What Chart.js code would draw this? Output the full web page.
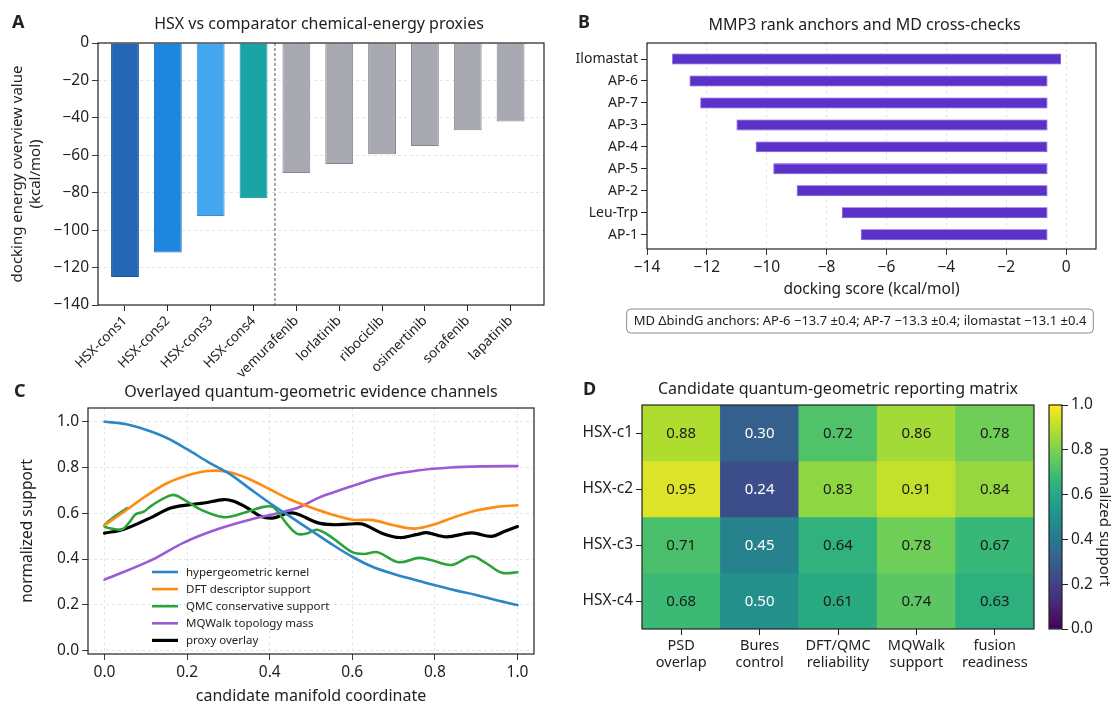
<!DOCTYPE html>
<html>
<head>
<meta charset="utf-8">
<title>HSX docking and quantum-geometric overview</title>
<script src="https://cdn.jsdelivr.net/npm/chart.js@4.4.1/dist/chart.umd.min.js"></script>
<style>
  html, body { margin: 0; padding: 0; background: #ffffff; }
  #board { position: relative; width: 1117px; height: 706px; overflow: hidden; background: #ffffff; }
  #board canvas { position: absolute; left: 0; top: 0; }
</style>
</head>
<body>
<div id="board">
  <canvas id="panelA" width="1117" height="706"></canvas>
  <canvas id="panelB" width="1117" height="706"></canvas>
  <canvas id="panelC" width="1117" height="706"></canvas>
  <canvas id="panelD" width="1117" height="706"></canvas>
  <canvas id="panelDbar" width="1117" height="706"></canvas>
</div>
<script>
// ---------- Panel A: docking energy overview ----------
const compounds = ['HSX-cons1', 'HSX-cons2', 'HSX-cons3', 'HSX-cons4', 'vemurafenib',
                   'lorlatinib', 'ribociclib', 'osimertinib', 'sorafenib', 'lapatinib'];
const dockingEnergy = [-125, -112, -92.5, -83, -69.5, -64.7, -59.5, -55, -46.6, -42];
const energyTicks = [0, -20, -40, -60, -80, -100, -120, -140];
const barFillA = ['#2367b5', '#1e87dd', '#43a6ef', '#19a5a6', '#a9aab1',
                  '#a9aab1', '#a9aab1', '#a9aab1', '#a9aab1', '#a9aab1'];
const barEdgeA = ['#1b568f', '#1a70b8', '#3890cf', '#138a8b', '#85868d',
                  '#85868d', '#85868d', '#85868d', '#85868d', '#85868d'];
const groupDivider = 3.5;

// ---------- Panel B: MMP3 rank anchors ----------
const anchors = ['Ilomastat', 'AP-6', 'AP-7', 'AP-3', 'AP-4', 'AP-5', 'AP-2', 'Leu-Trp', 'AP-1'];
const scoreStart = [-13.16, -12.58, -12.22, -11.01, -10.37, -9.78, -9.0, -7.49, -6.86];
const scoreEnd = [-0.17, -0.62, -0.62, -0.62, -0.62, -0.62, -0.62, -0.62, -0.62];
const scoreTicks = [-14, -12, -10, -8, -6, -4, -2, 0];
const mdNote = 'MD \u0394bindG anchors: AP-6 \u221213.7 \u00b10.4; AP-7 \u221213.3 \u00b10.4; ilomastat \u221213.1 \u00b10.4';

// ---------- Panel C: evidence channels along the manifold coordinate ----------
const kernelX = [0, 0.05, 0.1, 0.15, 0.2, 0.25, 0.3, 0.35, 0.4, 0.45, 0.5, 0.55, 0.6, 0.65, 0.7, 0.75, 0.8, 0.85, 0.9, 0.95, 1.0];
const kernelY = [1.0, 0.99, 0.965, 0.93, 0.88, 0.825, 0.775, 0.71, 0.645, 0.585, 0.525, 0.465, 0.41, 0.365, 0.335, 0.31, 0.285, 0.263, 0.243, 0.22, 0.199];
const dftX = [0, 0.05, 0.1, 0.15, 0.2, 0.25, 0.3, 0.35, 0.4, 0.45, 0.5, 0.55, 0.6, 0.65, 0.7, 0.75, 0.8, 0.85, 0.9, 0.95, 1.0];
const dftY = [0.548, 0.61, 0.675, 0.73, 0.765, 0.785, 0.78, 0.75, 0.705, 0.66, 0.625, 0.595, 0.572, 0.57, 0.548, 0.533, 0.552, 0.585, 0.612, 0.628, 0.635];
const qmcX = [0.055, 0.028, 0.0, 0.02, 0.043, 0.06, 0.075, 0.095, 0.115, 0.164, 0.192, 0.233, 0.289, 0.338, 0.385, 0.41, 0.443, 0.467, 0.49, 0.515, 0.55, 0.6, 0.628, 0.661, 0.712, 0.76, 0.79, 0.84, 0.889, 0.919, 0.962, 1.0];
const qmcY = [0.623, 0.59, 0.545, 0.532, 0.53, 0.56, 0.595, 0.607, 0.635, 0.68, 0.66, 0.616, 0.583, 0.602, 0.628, 0.625, 0.55, 0.51, 0.512, 0.528, 0.495, 0.43, 0.422, 0.43, 0.386, 0.405, 0.396, 0.374, 0.412, 0.388, 0.34, 0.342];
const walkX = [0, 0.111, 0.192, 0.273, 0.354, 0.435, 0.471, 0.515, 0.552, 0.596, 0.677, 0.758, 0.838, 0.919, 1.0];
const walkY = [0.31, 0.393, 0.472, 0.53, 0.573, 0.607, 0.626, 0.665, 0.69, 0.717, 0.762, 0.787, 0.8, 0.805, 0.806];
const proxyX = [0, 0.047, 0.111, 0.16, 0.208, 0.241, 0.289, 0.313, 0.346, 0.378, 0.41, 0.443, 0.467, 0.515, 0.552, 0.596, 0.624, 0.673, 0.715, 0.758, 0.78, 0.828, 0.889, 0.937, 0.968, 1.0];
const proxyY = [0.513, 0.53, 0.58, 0.623, 0.638, 0.645, 0.66, 0.652, 0.623, 0.587, 0.58, 0.6, 0.597, 0.559, 0.55, 0.553, 0.553, 0.512, 0.494, 0.508, 0.515, 0.497, 0.514, 0.499, 0.52, 0.542];
const coordTicks = [0, 0.2, 0.4, 0.6, 0.8, 1.0];
const supportTicks = [0, 0.2, 0.4, 0.6, 0.8, 1.0];

// ---------- Panel D: reporting matrix ----------
const candidates = ['HSX-c1', 'HSX-c2', 'HSX-c3', 'HSX-c4'];
const metrics = [['PSD', 'overlap'], ['Bures', 'control'], ['DFT/QMC', 'reliability'], ['MQWalk', 'support'], ['fusion', 'readiness']];
const scoresC1 = [0.88, 0.30, 0.72, 0.86, 0.78];
const scoresC2 = [0.95, 0.24, 0.83, 0.91, 0.84];
const scoresC3 = [0.71, 0.45, 0.64, 0.78, 0.67];
const scoresC4 = [0.68, 0.50, 0.61, 0.74, 0.63];
const colorbarTicks = [0, 0.2, 0.4, 0.6, 0.8, 1.0];

// ---------- shared helpers ----------
const FONT = "'Noto Sans', 'DejaVu Sans', sans-serif";
const INK = '#222222';
Chart.defaults.font.family = FONT;
Chart.defaults.font.size = 15;
Chart.defaults.color = INK;
Chart.defaults.animation = false;
Chart.defaults.responsive = false;
Chart.defaults.devicePixelRatio = 1;
Chart.defaults.plugins.legend.display = false;
Chart.defaults.plugins.tooltip.enabled = false;

const minusFmt = v => (v < 0 ? '\u2212' + Math.abs(v) : String(v));
const fixedTicks = list => scale => { scale.ticks = list.map(v => ({ value: v })); };

const viridisStops = ['#440154', '#482878', '#3e4989', '#31688e', '#26828e',
                      '#1f9e89', '#35b779', '#6ece58', '#b5de2b', '#fde725'];
function hexRgb(h) { return [1, 3, 5].map(k => parseInt(h.slice(k, k + 2), 16)); }
function viridis(t) {
  const s = Math.min(1, Math.max(0, t)) * (viridisStops.length - 1);
  const i = Math.min(viridisStops.length - 2, Math.floor(s));
  const f = s - i;
  const a = hexRgb(viridisStops[i]), b = hexRgb(viridisStops[i + 1]);
  const c = a.map((v, k) => Math.round(v + (b[k] - v) * f));
  return `rgb(${c[0]}, ${c[1]}, ${c[2]})`;
}

// Frame, panel letter and panel title around each axes box
const panelDeco = {
  id: 'panelDeco',
  afterDraw(chart, args, o) {
    const { ctx, chartArea: a } = chart;
    ctx.save();
    if (o.frame !== false) {
      ctx.strokeStyle = INK;
      ctx.lineWidth = 1.2;
      ctx.strokeRect(a.left, a.top, a.right - a.left, a.bottom - a.top);
    }
    ctx.fillStyle = INK;
    ctx.textBaseline = 'middle';
    if (o.title) {
      ctx.font = `16px ${FONT}`;
      ctx.textAlign = 'center';
      ctx.fillText(o.title, (a.left + a.right) / 2 + (o.titleDx || 0), o.titleY);
    }
    if (o.letter) {
      ctx.font = `bold 18px ${FONT}`;
      ctx.textAlign = 'left';
      ctx.fillText(o.letter, o.letterX, o.letterY);
    }
    ctx.restore();
  }
};

// ---------- Panel A chart ----------
const dividerLine = {
  id: 'dividerLine',
  afterDatasetsDraw(chart) {
    const { ctx, chartArea: a, scales } = chart;
    const x = scales.x.getPixelForValue(groupDivider);
    ctx.save();
    ctx.strokeStyle = '#555555';
    ctx.lineWidth = 1;
    ctx.setLineDash([3, 2]);
    ctx.beginPath();
    ctx.moveTo(x, a.top);
    ctx.lineTo(x, a.bottom);
    ctx.stroke();
    ctx.restore();
  }
};

new Chart(document.getElementById('panelA'), {
  type: 'bar',
  data: {
    datasets: [{
      data: dockingEnergy.map((v, i) => ({ x: i, y: v })),
      backgroundColor: barFillA,
      borderColor: barEdgeA,
      borderWidth: 1,
      barPercentage: 0.65,
      categoryPercentage: 1
    }]
  },
  options: {
    layout: { padding: { left: 9, top: 43, right: 573, bottom: 291 } },
    scales: {
      x: {
        type: 'linear', min: -0.63, max: 9.78, offset: false,
        afterBuildTicks: fixedTicks(compounds.map((c, i) => i)),
        ticks: { callback: v => compounds[v], minRotation: 45, maxRotation: 45, autoSkip: false, font: { size: 13.5 }, padding: 2 },
        grid: { offset: false, drawOnChartArea: false, tickColor: INK, tickLength: 6 },
        border: { display: false },
        afterFit: s => { s.height = 110; }
      },
      y: {
        type: 'linear', min: -140, max: 0,
        afterBuildTicks: fixedTicks(energyTicks),
        ticks: { callback: minusFmt, padding: 3, font: { size: 15.5 } },
        grid: { color: '#e3e3e3', lineWidth: 0.9, tickColor: INK, tickLength: 6 },
        border: { display: false, dash: [3, 3] },
        title: { display: true, text: ['docking energy overview value', '(kcal/mol)'], padding: 0, font: { size: 15 } },
        afterFit: s => { s.width = 89; }
      }
    },
    plugins: {
      panelDeco: { letter: 'A', letterX: 12, letterY: 23, title: 'HSX vs comparator chemical-energy proxies', titleY: 24, titleDx: -2 }
    }
  },
  plugins: [dividerLine, panelDeco]
});

// ---------- Panel B chart ----------
const noteBox = {
  id: 'noteBox',
  afterDraw(chart) {
    const { ctx } = chart;
    ctx.save();
    ctx.font = `13px ${FONT}`;
    const w = ctx.measureText(mdNote).width;
    const cx = 860, cy = 321, padX = 7, h = 24;
    const x0 = cx - w / 2 - padX, y0 = cy - h / 2;
    ctx.beginPath();
    ctx.roundRect(x0, y0, w + 2 * padX, h, 4);
    ctx.fillStyle = '#ffffff';
    ctx.fill();
    ctx.strokeStyle = '#8c8c8c';
    ctx.lineWidth = 1;
    ctx.stroke();
    ctx.fillStyle = INK;
    ctx.textAlign = 'center';
    ctx.textBaseline = 'middle';
    ctx.fillText(mdNote, cx, cy + 0.5);
    ctx.restore();
  }
};

new Chart(document.getElementById('panelB'), {
  type: 'bar',
  data: {
    datasets: [{
      data: anchors.map((n, i) => ({ x: [scoreStart[i], scoreEnd[i]], y: i })),
      backgroundColor: '#5a31c9',
      borderColor: '#6a45d4',
      borderWidth: 0.8,
      borderSkipped: false,
      barPercentage: 0.5,
      categoryPercentage: 1
    }]
  },
  options: {
    indexAxis: 'y',
    layout: { padding: { left: 570, top: 43, right: 21, bottom: 407 } },
    scales: {
      x: {
        type: 'linear', min: -14, max: 1,
        afterBuildTicks: fixedTicks(scoreTicks),
        ticks: { callback: minusFmt, padding: 3, font: { size: 15.5 } },
        grid: { color: '#e3e3e3', lineWidth: 0.9, tickColor: INK, tickLength: 6 },
        border: { display: false, dash: [3, 3] },
        title: { display: true, text: 'docking score (kcal/mol)', padding: 0, font: { size: 15.5 } },
        afterFit: s => { s.height = 50; }
      },
      y: {
        type: 'linear', reverse: true, min: -0.73, max: 8.65, offset: false,
        afterBuildTicks: fixedTicks(anchors.map((n, i) => i)),
        ticks: { callback: v => anchors[v], padding: 3, font: { size: 14 } },
        grid: { offset: false, drawOnChartArea: false, tickColor: INK, tickLength: 6 },
        border: { display: false },
        afterFit: s => { s.width = 77; }
      }
    },
    plugins: {
      panelDeco: { letter: 'B', letterX: 578, letterY: 23, title: 'MMP3 rank anchors and MD cross-checks', titleY: 25, titleDx: -7 }
    }
  },
  plugins: [noteBox, panelDeco]
});

// ---------- Panel C chart ----------
const pairs = (xs, ys) => xs.map((x, i) => ({ x, y: ys[i] }));

const insideLegend = {
  id: 'insideLegend',
  afterDraw(chart) {
    const { ctx } = chart;
    ctx.save();
    ctx.font = `11.5px ${FONT}`;
    ctx.textAlign = 'left';
    ctx.textBaseline = 'middle';
    chart.data.datasets.forEach((ds, i) => {
      const y = 572 + i * 17.1;
      ctx.strokeStyle = ds.borderColor;
      ctx.lineWidth = ds.borderWidth;
      ctx.beginPath();
      ctx.moveTo(152, y);
      ctx.lineTo(178, y);
      ctx.stroke();
      ctx.fillStyle = INK;
      ctx.fillText(ds.label, 186, y + 0.5);
    });
    ctx.restore();
  }
};

const lineStyle = (label, color, width, pts) => ({
  label, data: pts, borderColor: color, borderWidth: width,
  pointRadius: 0, tension: 0.35, fill: false, borderCapStyle: 'round', borderJoinStyle: 'round'
});

new Chart(document.getElementById('panelC'), {
  type: 'line',
  data: {
    datasets: [
      lineStyle('hypergeometric kernel', '#2b86c6', 2.6, pairs(kernelX, kernelY)),
      lineStyle('DFT descriptor support', '#ff8c12', 2.6, pairs(dftX, dftY)),
      lineStyle('QMC conservative support', '#2ca33a', 2.6, pairs(qmcX, qmcY)),
      lineStyle('MQWalk topology mass', '#9a5bd6', 2.6, pairs(walkX, walkY)),
      lineStyle('proxy overlay', '#000000', 3.2, pairs(proxyX, proxyY))
    ]
  },
  options: {
    layout: { padding: { left: 18, top: 408, right: 583, bottom: 0 } },
    scales: {
      x: {
        type: 'linear', min: -0.04, max: 1.04,
        afterBuildTicks: fixedTicks(coordTicks),
        ticks: { callback: v => v.toFixed(1), padding: 3, font: { size: 15.5 } },
        grid: { color: '#e3e3e3', lineWidth: 0.9, tickColor: INK, tickLength: 6 },
        border: { display: false, dash: [3, 3] },
        title: { display: true, text: 'candidate manifold coordinate', padding: 0, font: { size: 16 } },
        afterFit: s => { s.height = 52; }
      },
      y: {
        type: 'linear', min: -0.015, max: 1.06,
        afterBuildTicks: fixedTicks(supportTicks),
        ticks: { callback: v => v.toFixed(1), padding: 3, font: { size: 15.5 } },
        grid: { color: '#e3e3e3', lineWidth: 0.9, tickColor: INK, tickLength: 6 },
        border: { display: false, dash: [3, 3] },
        title: { display: true, text: 'normalized support', padding: 0, font: { size: 15.5 } },
        afterFit: s => { s.width = 70; }
      }
    },
    plugins: {
      panelDeco: { letter: 'C', letterX: 14, letterY: 392, title: 'Overlayed quantum-geometric evidence channels', titleY: 392 }
    }
  },
  plugins: [insideLegend, panelDeco]
});

// ---------- Panel D heatmap ----------
const matrix = [scoresC1, scoresC2, scoresC3, scoresC4];

const cellText = {
  id: 'cellText',
  afterDatasetsDraw(chart) {
    const { ctx } = chart;
    ctx.save();
    ctx.font = `15px ${FONT}`;
    ctx.textAlign = 'center';
    ctx.textBaseline = 'middle';
    chart.data.datasets.forEach((ds, r) => {
      chart.getDatasetMeta(r).data.forEach((el, c) => {
        const v = matrix[r][c];
        const p = el.getCenterPoint();
        ctx.fillStyle = v < 0.55 ? '#ffffff' : '#1a1a1a';
        ctx.fillText(v.toFixed(2), p.x, p.y + 1);
      });
    });
    ctx.restore();
  }
};

new Chart(document.getElementById('panelD'), {
  type: 'bar',
  data: {
    labels: metrics,
    datasets: matrix.map((row, r) => ({
      label: candidates[r],
      data: row.map(() => [r - 0.5, r + 0.5]),
      backgroundColor: row.map(viridis),
      borderWidth: 0,
      grouped: false,
      barPercentage: 1,
      categoryPercentage: 1
    }))
  },
  options: {
    layout: { padding: { left: 562, top: 405, right: 83, bottom: 27 } },
    scales: {
      x: {
        type: 'category', offset: true,
        ticks: { padding: 2, font: { size: 14.5 }, autoSkip: false, maxRotation: 0 },
        grid: { offset: false, drawOnChartArea: false, tickColor: INK, tickLength: 6 },
        border: { display: false },
        afterFit: s => { s.height = 50; }
      },
      y: {
        type: 'linear', reverse: true, min: -0.5, max: 3.5,
        afterBuildTicks: fixedTicks(candidates.map((c, i) => i)),
        ticks: { callback: v => candidates[v], padding: 3, font: { size: 15.5 } },
        grid: { drawOnChartArea: false, tickColor: INK, tickLength: 6 },
        border: { display: false },
        afterFit: s => { s.width = 80; }
      }
    },
    plugins: {
      panelDeco: { letter: 'D', letterX: 583, letterY: 390, title: 'Candidate quantum-geometric reporting matrix', titleY: 389 }
    }
  },
  plugins: [cellText, panelDeco]
});

// ---------- Panel D colorbar ----------
new Chart(document.getElementById('panelDbar'), {
  type: 'bar',
  data: {
    labels: ['scale'],
    datasets: [{
      data: [[0, 1]],
      borderWidth: 0,
      barPercentage: 1,
      categoryPercentage: 1,
      backgroundColor: (c) => {
        const { chart } = c;
        if (!chart.chartArea) return viridis(0.5);
        const y = chart.scales.y;
        const g = chart.ctx.createLinearGradient(0, y.getPixelForValue(0), 0, y.getPixelForValue(1));
        viridisStops.forEach((col, k) => g.addColorStop(k / (viridisStops.length - 1), col));
        return g;
      }
    }]
  },
  options: {
    layout: { padding: { left: 1049, top: 405, right: 4, bottom: 77 } },
    scales: {
      x: { display: false },
      y: {
        position: 'right', min: 0, max: 1,
        afterBuildTicks: fixedTicks(colorbarTicks),
        ticks: { callback: v => v.toFixed(1), padding: 3, font: { size: 15.5 } },
        grid: { drawOnChartArea: false, tickColor: INK, tickLength: 6 },
        border: { display: false },
        title: { display: true, text: 'normalized support', padding: 0, font: { size: 15 } },
        afterFit: s => { s.width = 51; }
      }
    },
    plugins: { panelDeco: { frame: true } }
  },
  plugins: [panelDeco]
});
</script>
</body>
</html>
